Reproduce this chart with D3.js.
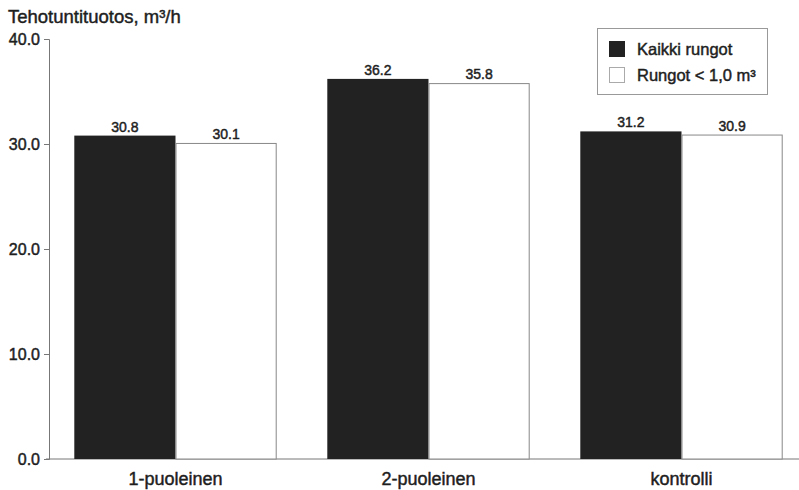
<!DOCTYPE html>
<html><head><meta charset="utf-8">
<script src="https://cdn.jsdelivr.net/npm/d3@7"></script>
<style>
body{margin:0;background:#fff;}
svg{display:block;font-family:"Liberation Sans",Arial,sans-serif;}
svg text{stroke:#1e1e1e;stroke-width:0.45px;}
</style></head>
<body><svg id="c" width="799" height="490"></svg>
<script>
const categories = ["1-puoleinen", "2-puoleinen", "kontrolli"];
const seriesNames = ["Kaikki rungot", "Rungot < 1,0 m³"];
const kaikkiRungot = [30.8, 36.2, 31.2];
const rungotAlle1 = [30.1, 35.8, 30.9];
const yTicks = [0, 10, 20, 30, 40];
const yTitle = "Tehotuntituotos, m³/h";
const colors = ["#222222", "#ffffff"];

const svg = d3.select("#c");
const x0 = d3.scaleBand().domain(categories).range([49, 808]).paddingInner(0.2).paddingOuter(0.1);
const x1 = d3.scaleBand().domain([0, 1]).range([0, x0.bandwidth()]);
const y = d3.scaleLinear().domain([0, 40]).range([459, 39]);
const textCol = "#1e1e1e";

// baseline
svg.append("line").attr("x1", 46).attr("x2", 799).attr("y1", y(0)).attr("y2", y(0))
  .attr("stroke", "#777").attr("stroke-width", 1);

// y axis
const yAxis = svg.append("g").attr("transform", "translate(49,0)")
  .call(d3.axisLeft(y).tickValues(yTicks).tickFormat(d3.format(".1f")).tickSize(5).tickPadding(4));
yAxis.select(".domain").attr("stroke", "#777");
yAxis.selectAll(".tick line").attr("stroke", "#777");
yAxis.selectAll("text").attr("font-size", 16).attr("fill", textCol)
  .attr("font-family", "Liberation Sans, Arial, sans-serif");

const data = categories.map((c, i) => ({c, vals: [kaikkiRungot[i], rungotAlle1[i]]}));
const g = svg.selectAll("g.grp").data(data).join("g").attr("class", "grp")
  .attr("transform", d => `translate(${x0(d.c)},0)`);
g.selectAll("rect").data(d => d.vals.map((v, k) => ({v, k}))).join("rect")
  .attr("x", d => x1(d.k) + (d.k === 1 ? 0.5 : 0))
  .attr("width", d => x1.bandwidth() - (d.k === 1 ? 1 : 0))
  .attr("y", d => y(d.v) + (d.k === 1 ? 0.5 : 0))
  .attr("height", d => y(0) - y(d.v) - (d.k === 1 ? 0.5 : 0))
  .attr("fill", d => colors[d.k])
  .attr("stroke", d => d.k === 1 ? "#888" : "none");
g.selectAll("text.val").data(d => d.vals.map((v, k) => ({v, k}))).join("text").attr("class", "val")
  .attr("x", d => x1(d.k) + x1.bandwidth() / 2)
  .attr("y", d => y(d.v) - 4)
  .attr("text-anchor", "middle").attr("font-size", 14).attr("fill", textCol)
  .text(d => d.v.toFixed(1));

// category labels
svg.selectAll("text.cat").data(categories).join("text").attr("class", "cat")
  .attr("x", d => x0(d) + x0.bandwidth() / 2).attr("y", 485)
  .attr("text-anchor", "middle").attr("font-size", 18).attr("fill", textCol)
  .text(d => d);

// title
svg.append("text").attr("x", 8).attr("y", 23).attr("font-size", 18.5).attr("fill", textCol).text(yTitle);

// legend
const lg = svg.append("g");
lg.append("rect").attr("x", 597.5).attr("y", 28.5).attr("width", 170).attr("height", 66)
  .attr("fill", "#fff").attr("stroke", "#999");
seriesNames.forEach((s, k) => {
  const yy = [41, 67][k];
  lg.append("rect").attr("x", 609.5).attr("y", yy + 0.5).attr("width", 15).attr("height", 15)
    .attr("fill", colors[k]).attr("stroke", k === 1 ? "#aaa" : colors[0]);
  lg.append("text").attr("x", 637).attr("y", yy + 14).attr("font-size", 16.5).attr("fill", textCol).text(s);
});
</script></body></html>
